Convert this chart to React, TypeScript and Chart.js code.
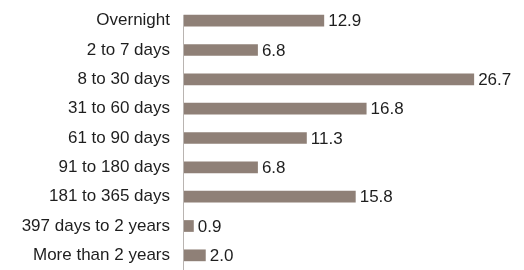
import React, { useEffect, useRef } from "react";
import { Chart, registerables } from "chart.js";

Chart.register(...registerables);

const categories = [
  "Overnight",
  "2 to 7 days",
  "8 to 30 days",
  "31 to 60 days",
  "61 to 90 days",
  "91 to 180 days",
  "181 to 365 days",
  "397 days to 2 years",
  "More than 2 years",
];
const values = [12.9, 6.8, 26.7, 16.8, 11.3, 6.8, 15.8, 0.9, 2.0];
const valueLabels = ["12.9", "6.8", "26.7", "16.8", "11.3", "6.8", "15.8", "0.9", "2.0"];

const FONT = "'Liberation Sans', Arial, sans-serif";

export default function App() {
  const ref = useRef<HTMLCanvasElement | null>(null);
  useEffect(() => {
    if (!ref.current) return;
    const labelPlugin = {
      id: "valueLabels",
      beforeDatasetsDraw(chart: any) {
        const ctx = chart.ctx;
        const meta = chart.getDatasetMeta(0);
        const first = meta.data[0];
        const top = first.y - first.height / 2;
        ctx.save();
        ctx.strokeStyle = "#b9b4b1";
        ctx.lineWidth = 1;
        ctx.beginPath();
        ctx.moveTo(chart.chartArea.left - 0.5, top);
        ctx.lineTo(chart.chartArea.left - 0.5, chart.height);
        ctx.stroke();
        ctx.restore();
      },
      afterDatasetsDraw(chart: any) {
        const ctx = chart.ctx;
        const meta = chart.getDatasetMeta(0);
        ctx.save();
        ctx.font = `17px ${FONT}`;
        ctx.fillStyle = "#1e1e1e";
        ctx.textAlign = "left";
        ctx.textBaseline = "middle";
        meta.data.forEach((bar: any, i: number) => {
          ctx.fillText(valueLabels[i], bar.x + 4, bar.y + 1);
        });
        ctx.restore();
      },
    };
    const chart = new Chart(ref.current, {
      type: "bar",
      data: {
        labels: categories,
        datasets: [
          {
            data: values,
            backgroundColor: "#8f8077",
            borderWidth: 0,
            categoryPercentage: 1,
            barPercentage: 0.4,
          },
        ],
      },
      options: {
        indexAxis: "y",
        responsive: false,
        animation: false,
        layout: { padding: { top: 6, right: 14, bottom: 0, left: 0 } },
        plugins: { legend: { display: false }, tooltip: { enabled: false } },
        scales: {
          x: { display: false, min: 0, max: 30 },
          y: {
            grid: { display: false, drawTicks: false },
            border: { display: false },
            ticks: {
              padding: 14,
              color: "#1e1e1e",
              font: { family: FONT, size: 17 },
            },
            afterFit(scale: any) {
              scale.width = 184;
              scale.paddingTop = 0;
              scale.paddingBottom = 0;
            },
          },
        },
      },
      plugins: [labelPlugin],
    });
    return () => chart.destroy();
  }, []);
  return (
    <div style={{ position: "absolute", left: 0, top: 0, width: 524, height: 270 }}>
      <canvas ref={ref} width={524} height={270} />
    </div>
  );
}
